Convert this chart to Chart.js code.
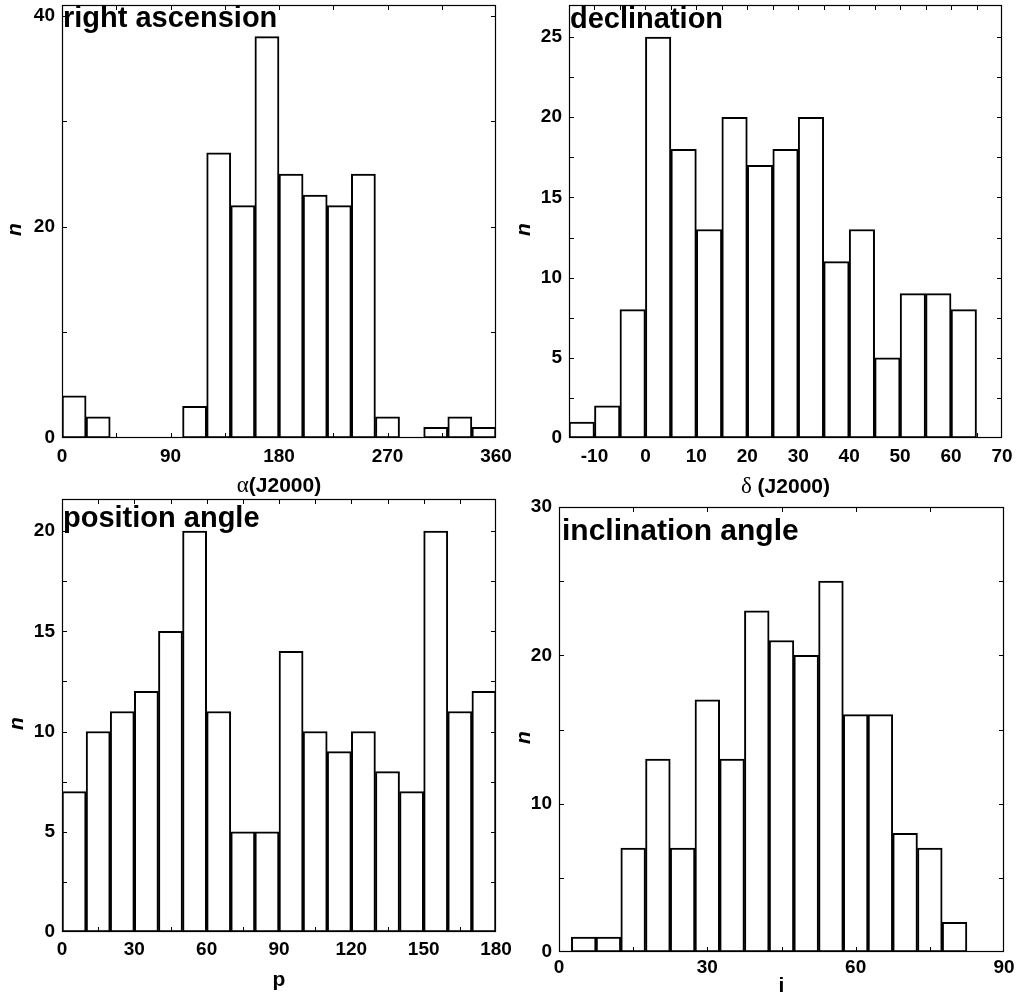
<!DOCTYPE html>
<html>
<head>
<meta charset="utf-8">
<script src="https://cdn.jsdelivr.net/npm/chart.js@4.4.1/dist/chart.umd.min.js"></script>
<style>
  body { margin: 0; background: #fff; }
  #wrap { position: relative; width: 1022px; height: 995px; }
  #wrap canvas { position: absolute; left: 0; top: 0; }
</style>
</head>
<body>
<div id="wrap">
  <canvas id="ra" width="1022" height="995"></canvas>
  <canvas id="dec" width="1022" height="995"></canvas>
  <canvas id="pa" width="1022" height="995"></canvas>
  <canvas id="inc" width="1022" height="995"></canvas>
</div>
<script>
// right ascension, 20 deg bins
const raCenters = [10, 30, 50, 70, 90, 110, 130, 150, 170, 190, 210, 230, 250, 270, 290, 310, 330, 350];
const raCounts  = [4, 2, 0, 0, 0, 3, 27, 22, 38, 25, 23, 22, 25, 2, 0, 1, 2, 1];
const raTicksX  = [0, 90, 180, 270, 360];
const raTicksY  = [0, 20, 40];

// declination, 5 deg bins
const decCenters = [-12.5, -7.5, -2.5, 2.5, 7.5, 12.5, 17.5, 22.5, 27.5, 32.5, 37.5, 42.5, 47.5, 52.5, 57.5, 62.5];
const decCounts  = [1, 2, 8, 25, 18, 13, 20, 17, 18, 20, 11, 13, 5, 9, 9, 8];
const decTicksX  = [-10, 0, 10, 20, 30, 40, 50, 60, 70];
const decTicksY  = [0, 5, 10, 15, 20, 25];

// position angle, 10 deg bins
const paCenters = [5, 15, 25, 35, 45, 55, 65, 75, 85, 95, 105, 115, 125, 135, 145, 155, 165, 175];
const paCounts  = [7, 10, 11, 12, 15, 20, 11, 5, 5, 14, 10, 9, 10, 8, 7, 20, 11, 12];
const paTicksX  = [0, 30, 60, 90, 120, 150, 180];
const paTicksY  = [0, 5, 10, 15, 20];

// inclination angle, 5 deg bins
const incCenters = [5, 10, 15, 20, 25, 30, 35, 40, 45, 50, 55, 60, 65, 70, 75, 80];
const incCounts  = [1, 1, 7, 13, 7, 17, 13, 23, 21, 20, 25, 16, 16, 8, 7, 2];
const incTicksX  = [0, 30, 60, 90];
const incTicksY  = [0, 10, 20, 30];

const SANS = '"Liberation Sans", Arial, sans-serif';
const SERIF = '"Liberation Serif", "Times New Roman", serif';

function makeHist(o) {
  const W = 1022, H = 995;
  const yAxisW = 40, xAxisH = 30;

  const framePlugin = {
    id: 'frame',
    afterDatasetsDraw(chart) {
      const ctx = chart.ctx;
      const a = chart.chartArea;
      const xs = chart.scales.x, ys = chart.scales.y;
      ctx.save();
      ctx.strokeStyle = '#000';
      ctx.lineWidth = 1.2;
      ctx.strokeRect(a.left + 0.5, a.top + 0.5, a.right - a.left - 1, a.bottom - a.top - 1);

      // inward ticks on all four sides
      const len = 5;
      ctx.lineWidth = 1;
      ctx.beginPath();
      for (let v = o.xMin; v <= o.xMax + 1e-9; v += o.xMinor) {
        if (v <= o.xMin || v >= o.xMax) continue;
        const px = Math.round(xs.getPixelForValue(v)) + 0.5;
        ctx.moveTo(px, a.bottom); ctx.lineTo(px, a.bottom - len);
        ctx.moveTo(px, a.top); ctx.lineTo(px, a.top + len);
      }
      for (let v = 0; v <= o.yMax + 1e-9; v += o.yMinor) {
        if (v <= 0) continue;
        const py = Math.round(ys.getPixelForValue(v)) + 0.5;
        ctx.moveTo(a.left, py); ctx.lineTo(a.left + len, py);
        ctx.moveTo(a.right, py); ctx.lineTo(a.right - len, py);
      }
      ctx.stroke();

      // panel name inside the frame
      ctx.fillStyle = '#000';
      ctx.font = 'bold ' + o.titleSize + 'px ' + SANS;
      ctx.textAlign = 'left';
      ctx.textBaseline = 'alphabetic';
      ctx.fillText(o.title, a.left + o.titleDx, a.top + o.titleDy);

      // x axis title, built from mixed-font pieces
      let total = 0;
      o.xTitle.forEach(p => { ctx.font = p.font; p.w = ctx.measureText(p.text).width; total += p.w; });
      let x = (a.left + a.right) / 2 - total / 2;
      ctx.textBaseline = 'middle';
      o.xTitle.forEach(p => { ctx.font = p.font; ctx.fillText(p.text, x, a.bottom + o.xTitleDy); x += p.w; });

      // y axis title
      ctx.save();
      ctx.translate(a.left - o.nDx, (a.top + a.bottom) / 2 + 8);
      ctx.rotate(-Math.PI / 2);
      ctx.font = 'italic bold 21px ' + SANS;
      ctx.textAlign = 'center';
      ctx.fillText('n', 0, 0);
      ctx.restore();
      ctx.restore();
    }
  };

  const tickFont = { family: SANS, size: 19, weight: 'bold' };

  return new Chart(document.getElementById(o.id), {
    type: 'bar',
    data: {
      datasets: [{
        data: o.centers.map((c, i) => ({ x: c, y: o.counts[i] })),
        backgroundColor: '#fff',
        borderColor: '#000',
        borderWidth: 2,
        borderSkipped: false,
        barPercentage: 1,
        categoryPercentage: 1
      }]
    },
    options: {
      responsive: false,
      animation: false,
      devicePixelRatio: 1,
      layout: {
        padding: {
          left: o.area.left - yAxisW,
          top: o.area.top,
          right: W - o.area.right,
          bottom: H - o.area.bottom - xAxisH
        }
      },
      plugins: { legend: { display: false }, tooltip: { enabled: false } },
      scales: {
        x: {
          type: 'linear',
          offset: false,
          min: o.xMin,
          max: o.xMax,
          grid: { display: false, drawTicks: false },
          border: { display: false },
          ticks: { color: '#000', font: tickFont, padding: o.tickPadX, maxRotation: 0 },
          afterBuildTicks: s => { s.ticks = o.xTicks.map(v => ({ value: v })); },
          afterFit: s => { s.height = xAxisH; s.paddingLeft = 0; s.paddingRight = 0; }
        },
        y: {
          min: 0,
          max: o.yMax,
          grid: { display: false, drawTicks: false },
          border: { display: false },
          ticks: { color: '#000', font: tickFont, padding: 7 },
          afterBuildTicks: s => { s.ticks = o.yTicks.map(v => ({ value: v })); },
          afterFit: s => { s.width = yAxisW; s.paddingTop = 0; s.paddingBottom = 0; }
        }
      }
    },
    plugins: [framePlugin]
  });
}

const labelFont = 'bold 21px ' + SANS;
const greekFont = '23px ' + SERIF;

makeHist({
  id: 'ra', centers: raCenters, counts: raCounts,
  xMin: 0, xMax: 360, yMax: 41, xTicks: raTicksX, yTicks: raTicksY, xMinor: 45, yMinor: 10,
  area: { left: 62, top: 5, right: 496, bottom: 438 },
  title: 'right ascension', titleSize: 29, titleDx: 1, titleDy: 22,
  xTitle: [{ text: 'α', font: greekFont }, { text: '(J2000)', font: labelFont }],
  xTitleDy: 48, nDx: 47, tickPadX: 7
});

makeHist({
  id: 'dec', centers: decCenters, counts: decCounts,
  xMin: -15, xMax: 70, yMax: 27, xTicks: decTicksX, yTicks: decTicksY, xMinor: 5, yMinor: 2.5,
  area: { left: 569, top: 5, right: 1002, bottom: 438 },
  title: 'declination', titleSize: 29, titleDx: 1, titleDy: 23,
  xTitle: [{ text: 'δ ', font: greekFont }, { text: '(J2000)', font: labelFont }],
  xTitleDy: 49, nDx: 45, tickPadX: 7
});

makeHist({
  id: 'pa', centers: paCenters, counts: paCounts,
  xMin: 0, xMax: 180, yMax: 21.6, xTicks: paTicksX, yTicks: paTicksY, xMinor: 15, yMinor: 2.5,
  area: { left: 62, top: 499, right: 496, bottom: 932 },
  title: 'position angle', titleSize: 29, titleDx: 1, titleDy: 28,
  xTitle: [{ text: 'p', font: labelFont }],
  xTitleDy: 48, nDx: 45, tickPadX: 6
});

makeHist({
  id: 'inc', centers: incCenters, counts: incCounts,
  xMin: 0, xMax: 90, yMax: 30, xTicks: incTicksX, yTicks: incTicksY, xMinor: 15, yMinor: 5,
  area: { left: 559, top: 507, right: 1004, bottom: 952 },
  title: 'inclination angle', titleSize: 30, titleDx: 3, titleDy: 33,
  xTitle: [{ text: 'i', font: labelFont }],
  xTitleDy: 34, nDx: 35, tickPadX: 4
});
</script>
</body>
</html>
